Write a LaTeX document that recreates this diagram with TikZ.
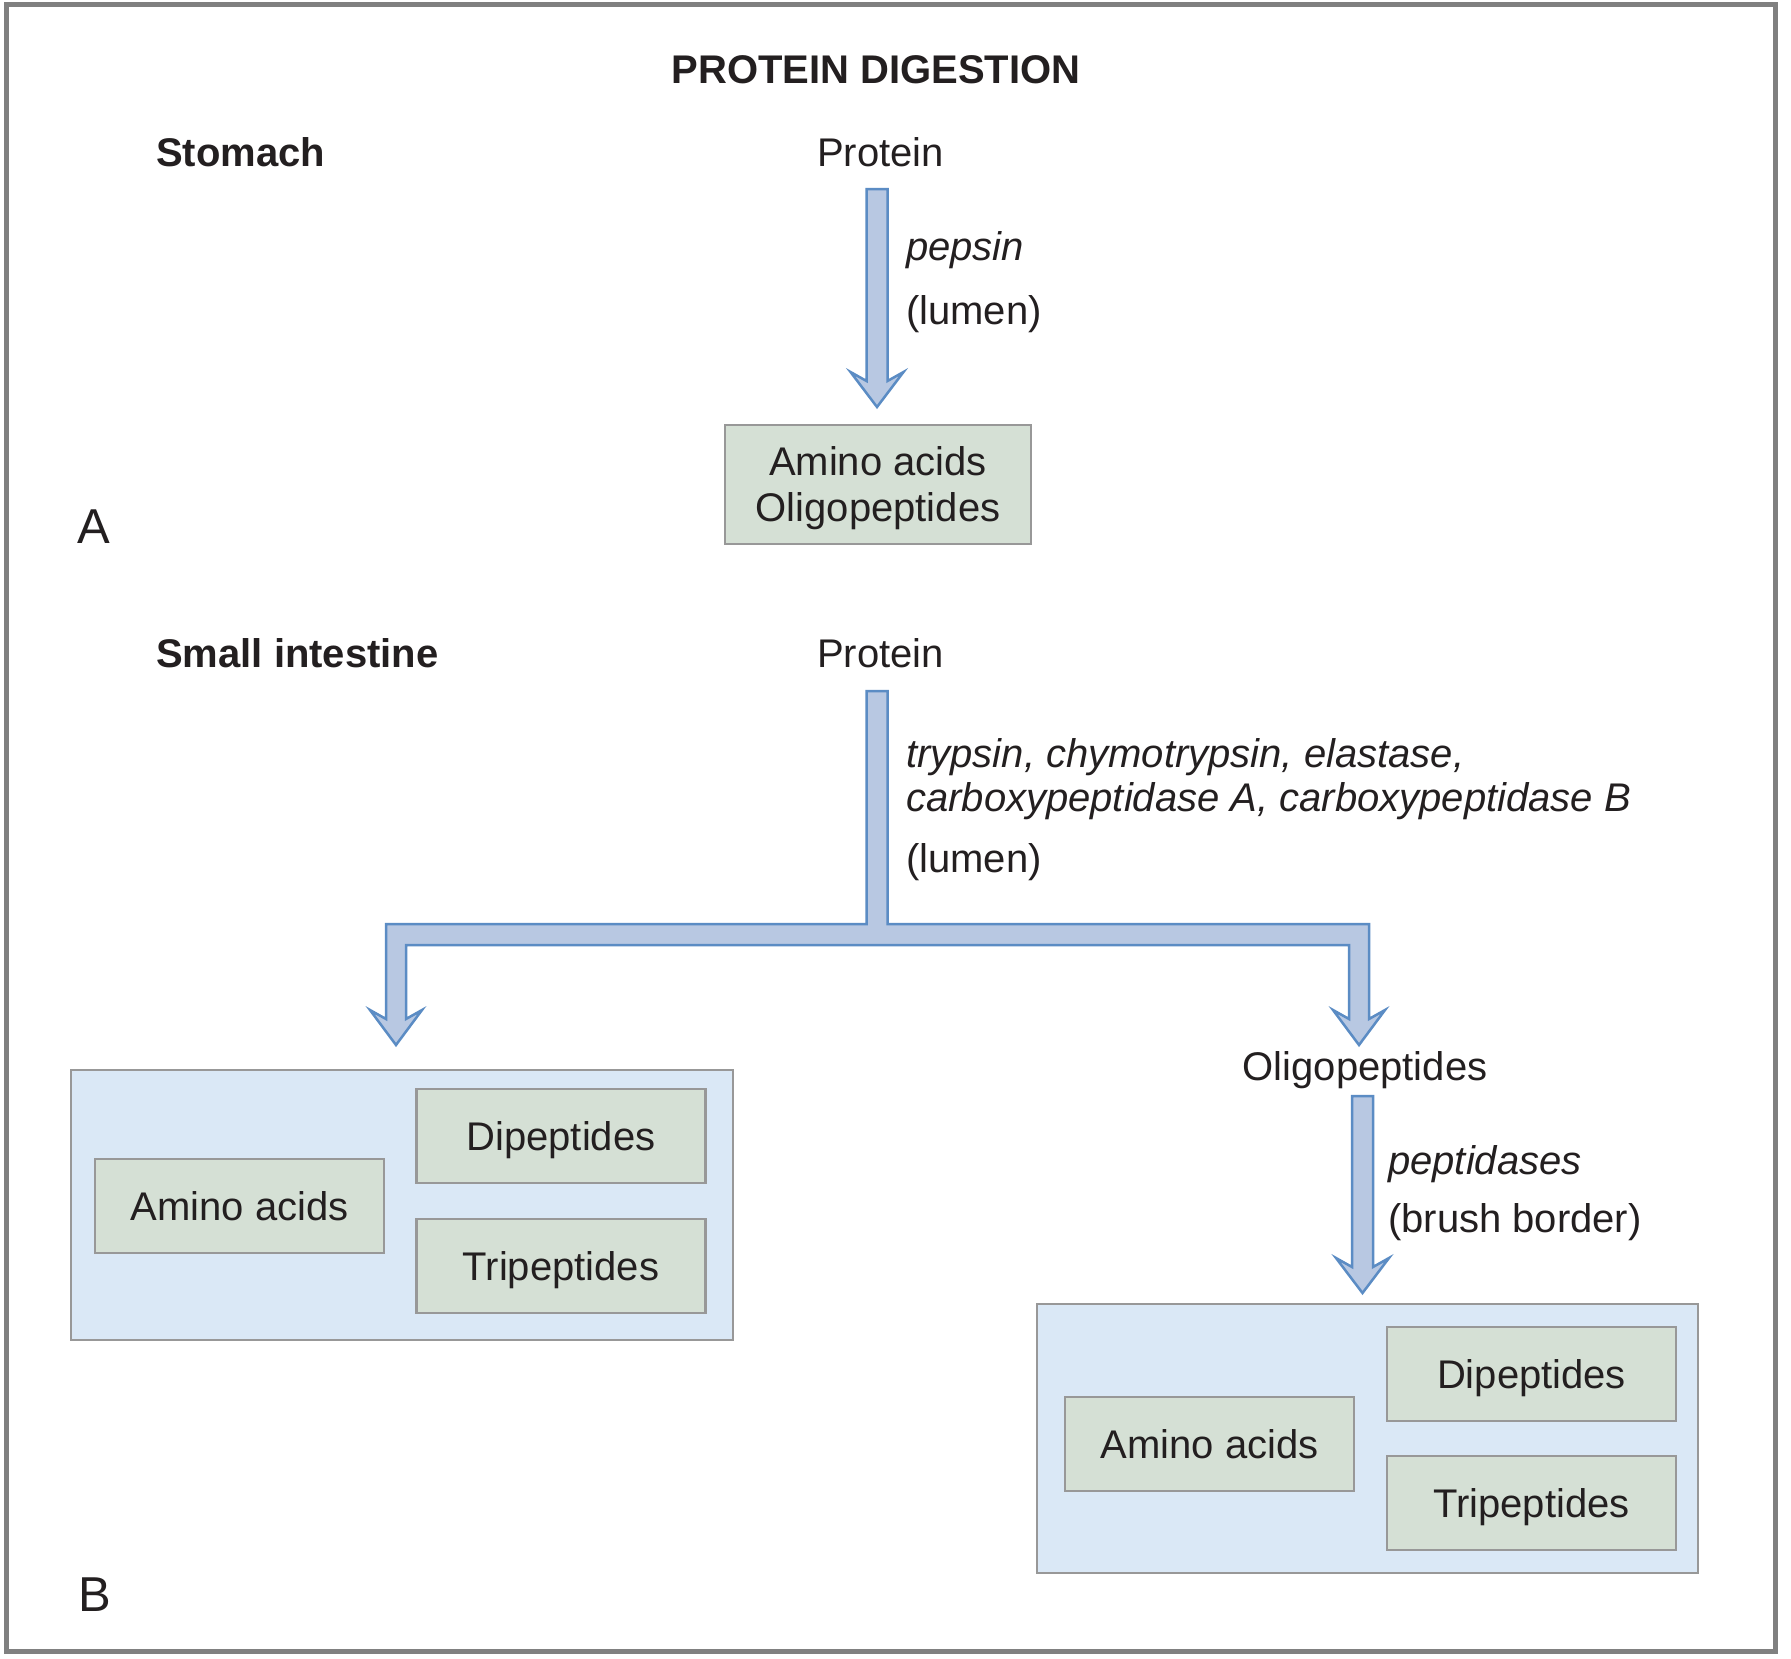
\documentclass[tikz,border=0pt]{standalone}
\usepackage{fontspec}
\setmainfont{Liberation Sans}
\usetikzlibrary{calc}
\definecolor{txt}{HTML}{231F20}
\definecolor{arrfill}{HTML}{B8C8E2}
\definecolor{arrline}{HTML}{5B8CC4}
\definecolor{boxfill}{HTML}{D5E0D5}
\definecolor{bigfill}{HTML}{DAE8F6}
\definecolor{boxline}{HTML}{989898}
\definecolor{frameline}{HTML}{808080}
\tikzset{
  lbl/.style={font=\fontsize{40}{46}\selectfont, text=txt, inner sep=0pt},
  panel/.style={font=\fontsize{49}{56}\selectfont, text=txt, inner sep=0pt},
  blk/.style={fill=arrfill, draw=arrline, line width=2.5, line join=miter},
  smallbox/.style={draw=boxline, fill=boxfill, line width=2.5, rectangle, inner sep=0pt,
     minimum width=289, minimum height=94, text depth=0pt, align=center,
     font=\fontsize{40}{46}\selectfont, text=txt},
  bigbox/.style={draw=boxline, fill=bigfill, line width=2.5, rectangle, inner sep=0pt}
}
\newcommand\downblock[2]{%
  \draw[blk] ($(#1)+(-10.5,0)$) -- ($(#2)+(-10.5,26)$) -- ($(#2)+(-26.5,35)$) -- (#2)
    -- ($(#2)+(26.5,35)$) -- ($(#2)+(10.5,26)$) -- ($(#1)+(10.5,0)$) -- cycle;}
\begin{document}
\begin{tikzpicture}[x=1pt,y=1pt]
\useasboundingbox (0,0) rectangle (1791,-1659);
\fill[white] (0,0) rectangle (1791,-1659);
\draw[frameline, line width=5] (6.5,-5) rectangle (1775,-1651);

% titles
\node[lbl, font=\fontsize{40}{46}\selectfont\bfseries, anchor=base] (title) at (876,-84) {PROTEIN DIGESTION};
\node[lbl, font=\fontsize{40}{46}\selectfont\bfseries, anchor=base west] (stomach) at (156,-167) {Stomach};
\node[lbl, anchor=base] (protA) at (880.5,-167) {Protein};
\node[lbl, anchor=base west] (pepsin) at (906,-260) {\itshape pepsin};
\node[lbl, anchor=base west] (lumenA) at (906,-324) {(lumen)};
\node[smallbox, minimum width=306, minimum height=119] (boxA) at (878,-484.5) {Amino acids\\Oligopeptides};
\node[panel, anchor=base west] (labA) at (77,-543) {A};

% arrow A
\coordinate (a1top) at (877,-189);
\coordinate (a1tip) at (877,-407);
\downblock{a1top}{a1tip}

% part B
\node[lbl, font=\fontsize{40}{46}\selectfont\bfseries, anchor=base west] (smallint) at (156,-667) {Small intestine};
\node[lbl, anchor=base] (protB) at (880.5,-667) {Protein};
\node[lbl, anchor=base west] (enz1) at (906,-767) {\itshape trypsin, chymotrypsin, elastase,};
\node[lbl, anchor=base west] (enz2) at (906,-811) {\itshape carboxypeptidase A, carboxypeptidase B};
\node[lbl, anchor=base west] (lumenB) at (906,-872) {(lumen)};

\coordinate (btop) at (877,-691);
\coordinate (bl) at (396,-1045);
\coordinate (br) at (1359,-1045);
\draw[blk] ($(btop)+(-10.5,0)$) -- (866.5,-924) -- (386,-924) -- ($(bl)+(-10,26)$)
  -- ($(bl)+(-26,35)$) -- (bl) -- ($(bl)+(26,35)$) -- ($(bl)+(10,26)$)
  -- (406,-945) -- (1349,-945) -- ($(br)+(-10,26)$) -- ($(br)+(-26,35)$) -- (br)
  -- ($(br)+(26,35)$) -- ($(br)+(10,26)$) -- (1369,-924) -- (887.5,-924)
  -- ($(btop)+(10.5,0)$) -- cycle;

% left group
\node[bigbox, minimum width=662, minimum height=270] (bigL) at (402,-1205) {};
\node[smallbox] (aminoL) at (239.5,-1206) {Amino acids};
\node[smallbox] (dipL) at (561,-1136) {Dipeptides};
\node[smallbox] (tripL) at (561,-1266) {Tripeptides};

% right branch
\node[lbl, anchor=base] (oligoR) at (1365,-1080) {Oligopeptides};
\coordinate (a3top) at (1362.5,-1096);
\coordinate (a3tip) at (1362.5,-1293);
\downblock{a3top}{a3tip}
\node[lbl, anchor=base west] (pept) at (1388,-1174) {\itshape peptidases};
\node[lbl, anchor=base west] (brush) at (1388,-1232) {(brush border)};

\node[bigbox, minimum width=661, minimum height=269] (bigR) at (1367.5,-1438.5) {};
\node[smallbox] (aminoR) at (1209.5,-1444) {Amino acids};
\node[smallbox] (dipR) at (1531.5,-1374) {Dipeptides};
\node[smallbox] (tripR) at (1531.5,-1503) {Tripeptides};

\node[panel, anchor=base west] (labB) at (78,-1611) {B};
\end{tikzpicture}
\end{document}
